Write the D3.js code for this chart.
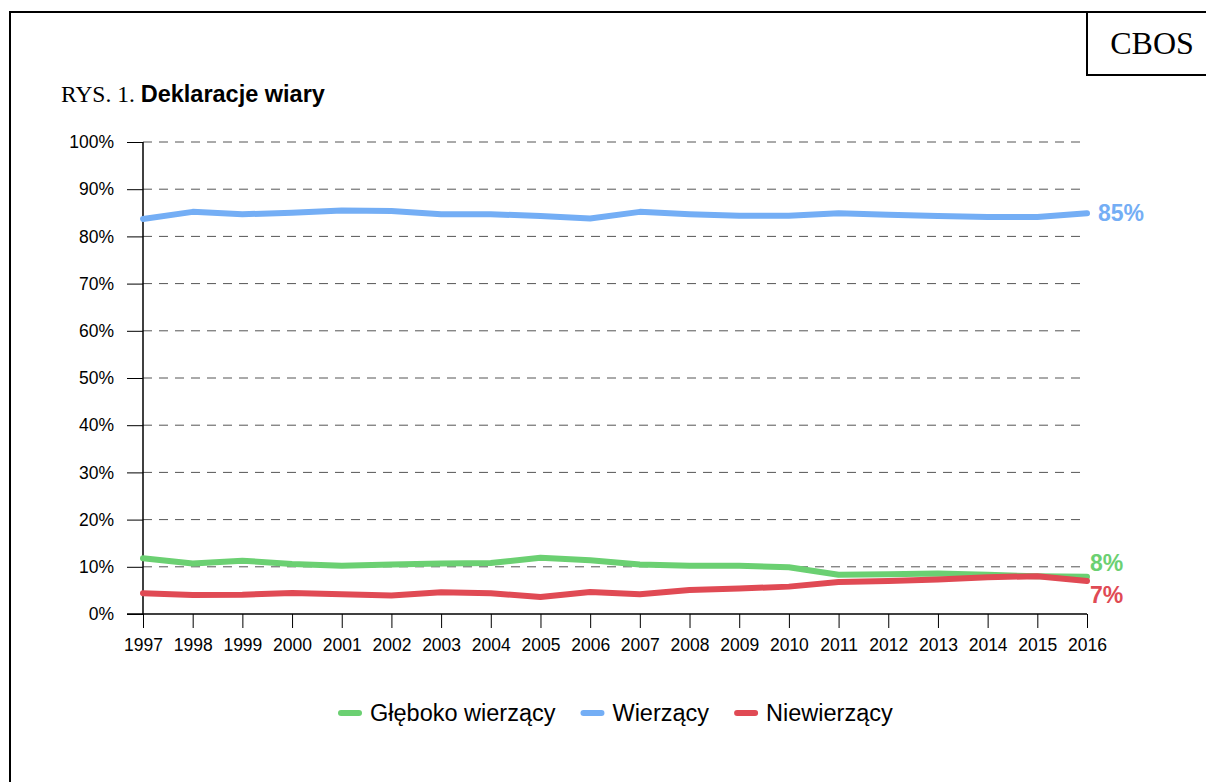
<!DOCTYPE html>
<html>
<head>
<meta charset="utf-8">
<script src="https://cdn.jsdelivr.net/npm/d3@7"></script>
<style>
  html, body { margin: 0; padding: 0; background: #fff; }
  svg { display: block; }
</style>
</head>
<body>
<div id="chart"></div>
<script>
const years = ["1997", "1998", "1999", "2000", "2001", "2002", "2003", "2004", "2005", "2006",
               "2007", "2008", "2009", "2010", "2011", "2012", "2013", "2014", "2015", "2016"];

const gleboko = [11.8, 10.7, 11.3, 10.6, 10.2, 10.5, 10.7, 10.8, 11.9, 11.4,
                 10.5, 10.2, 10.2, 9.9, 8.3, 8.4, 8.6, 8.3, 8.0, 7.9];
const wierzacy = [83.7, 85.2, 84.7, 85.0, 85.5, 85.4, 84.7, 84.7, 84.3, 83.8,
                  85.2, 84.7, 84.4, 84.4, 84.9, 84.6, 84.3, 84.1, 84.1, 84.9];
const niewierzacy = [4.4, 4.0, 4.1, 4.45, 4.2, 3.9, 4.6, 4.4, 3.6, 4.65,
                     4.2, 5.1, 5.4, 5.8, 6.8, 7.0, 7.3, 7.8, 8.0, 7.0];

const yTicks = [0, 10, 20, 30, 40, 50, 60, 70, 80, 90, 100];
const seriesNames = ["Głęboko wierzący", "Wierzący", "Niewierzący"];
const endLabels = ["8%", "85%", "7%"];

const colors = ["#6bd072", "#74aef5", "#e04a54"];
const seriesData = [gleboko, wierzacy, niewierzacy];

const width = 1206, height = 782;
const x0 = 143, x1 = 1087, y0 = 614, y1 = 142;
const sans = "'Liberation Sans', Arial, sans-serif";
const serif = "'Liberation Serif', 'Times New Roman', serif";

const svg = d3.select("#chart").append("svg")
    .attr("width", width)
    .attr("height", height);

// ramka
svg.append("path")
    .attr("d", `M10,${height} L10,12 L${width},12`)
    .attr("fill", "none")
    .attr("stroke", "#000")
    .attr("stroke-width", 2);

svg.append("path")
    .attr("d", `M1087,12 L1087,75 L${width},75`)
    .attr("fill", "none")
    .attr("stroke", "#000")
    .attr("stroke-width", 2);

svg.append("text")
    .attr("x", 1152)
    .attr("y", 54)
    .attr("text-anchor", "middle")
    .style("font-family", serif)
    .style("font-size", "32px")
    .text("CBOS");

const title = svg.append("text")
    .attr("x", 61)
    .attr("y", 102)
    .style("font-size", "23.5px");
title.append("tspan")
    .style("font-family", serif)
    .text("RYS. 1. ");
title.append("tspan")
    .style("font-family", sans)
    .style("font-weight", "700")
    .text("Deklaracje wiary");

const x = d3.scalePoint().domain(years).range([x0, x1]);
const y = d3.scaleLinear().domain([0, 100]).range([y0, y1]);

// siatka
svg.append("g")
    .selectAll("line")
    .data(yTicks.filter(d => d > 0))
    .enter()
    .append("line")
    .attr("x1", x0)
    .attr("x2", x1)
    .attr("y1", d => y(d))
    .attr("y2", d => y(d))
    .attr("stroke", "#555")
    .attr("stroke-width", 1)
    .attr("stroke-dasharray", "9,7");

const yAxis = svg.append("g")
    .attr("transform", `translate(${x0},0)`)
    .call(d3.axisLeft(y).tickValues(yTicks).tickSize(16).tickPadding(13).tickFormat(d => d + "%"));

const xAxis = svg.append("g")
    .attr("transform", `translate(0,${y0})`)
    .call(d3.axisBottom(x).tickSize(14).tickPadding(11));

[yAxis, xAxis].forEach(g => {
    g.select(".domain").attr("stroke", "#000").attr("stroke-width", 1.5);
    g.selectAll(".tick line").attr("stroke", "#000");
    g.selectAll("text")
        .attr("fill", "#000")
        .style("font-family", sans)
        .style("font-size", "17.5px");
});
yAxis.select(".domain").attr("d", `M0,${y0}V${y1}`);
xAxis.select(".domain").attr("d", `M${x0 - 16},0H${x1}`);

const line = d3.line()
    .x((d, i) => x(years[i]))
    .y(d => y(d));

const drawOrder = [1, 0, 2];
drawOrder.forEach(s => {
    svg.append("path")
        .datum(seriesData[s])
        .attr("d", line)
        .attr("fill", "none")
        .attr("stroke", colors[s])
        .attr("stroke-width", 6)
        .attr("stroke-linecap", "round")
        .attr("stroke-linejoin", "round");
});

const labelOffsets = [[3, -14], [11, 0], [3, 14]];
seriesData.forEach((vals, s) => {
    svg.append("text")
        .attr("x", x1 + labelOffsets[s][0])
        .attr("y", y(vals[vals.length - 1]) + labelOffsets[s][1])
        .attr("dy", "0.35em")
        .style("font-family", sans)
        .style("font-size", "23px")
        .style("font-weight", "700")
        .style("fill", colors[s])
        .text(endLabels[s]);
});

// legenda
const legend = svg.append("g").attr("transform", "translate(0,713)");
let lx = 338;
seriesNames.forEach((name, s) => {
    legend.append("line")
        .attr("x1", lx + 3)
        .attr("x2", lx + 21)
        .attr("y1", 0)
        .attr("y2", 0)
        .attr("stroke", colors[s])
        .attr("stroke-width", 6)
        .attr("stroke-linecap", "round");
    const t = legend.append("text")
        .attr("x", lx + 32)
        .attr("y", 0)
        .attr("dy", "0.35em")
        .style("font-family", sans)
        .style("font-size", "23.5px")
        .style("fill", "#000")
        .text(name);
    lx += 32 + t.node().getComputedTextLength() + 25;
});
</script>
</body>
</html>
